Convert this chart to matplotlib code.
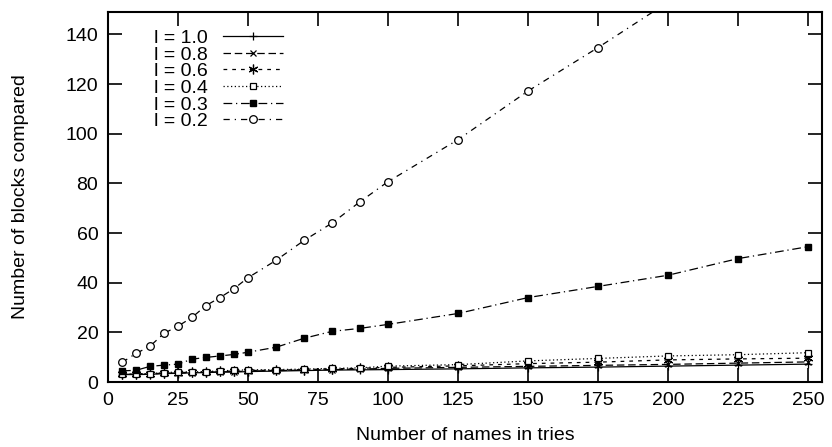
import matplotlib
matplotlib.use("Agg")
import matplotlib.pyplot as plt

plt.rcParams['font.family'] = ['Liberation Sans', 'DejaVu Sans']

# x positions (number of names in tries)
names = [5, 10, 15, 20, 25, 30, 35, 40, 45, 50, 60, 70, 80, 90, 100,
         125, 150, 175, 200, 225, 250]

# blocks compared for each threshold l
blocks_10 = [3.0, 3.0, 3.1, 3.4, 3.5, 3.7, 3.8, 4.0, 4.0, 4.2, 4.4, 4.6,
             4.8, 4.9, 5.0, 5.3, 5.7, 6.0, 6.4, 6.8, 7.2]
blocks_08 = [3.1, 3.1, 3.2, 3.5, 3.6, 3.8, 3.9, 4.1, 4.2, 4.4, 4.6, 4.8,
             5.0, 5.2, 5.5, 5.9, 6.3, 6.7, 7.1, 7.6, 8.1]
blocks_06 = [3.2, 3.2, 3.3, 3.6, 3.8, 3.9, 4.0, 4.3, 4.4, 4.6, 4.8, 5.0,
             5.3, 5.5, 5.9, 6.5, 7.4, 8.0, 8.9, 9.3, 9.6]
blocks_04 = [3.3, 3.3, 3.4, 3.8, 4.0, 4.1, 4.2, 4.5, 4.7, 4.9, 5.0, 5.2,
             5.5, 5.7, 6.4, 7.0, 8.5, 9.5, 10.5, 11.0, 11.8]
blocks_03 = [4.5, 4.7, 6.3, 6.8, 7.2, 9.2, 9.9, 10.5, 11.1, 12.0, 14.0, 17.6,
             20.4, 21.6, 23.2, 27.6, 34.0, 38.5, 43.0, 49.7, 54.5]
blocks_02 = [7.9, 11.5, 14.4, 19.6, 22.5, 26.0, 30.8, 34.0, 37.6, 42.0, 49.0, 57.0,
             64.0, 72.6, 80.7, 97.6, 117.2, 134.7, 153.0]

fig = plt.figure(figsize=(8.32, 4.47), dpi=100)
ax = fig.add_axes([0.1298, 0.1454, 0.8582, 0.8276])

lw = 0.9
ax.plot(names, blocks_10, color='black', lw=lw, ls='-', marker='+', ms=6, mew=0.9, label='l = 1.0')
ax.plot(names, blocks_08, color='black', lw=lw, ls=(0, (6, 3)), marker='x', ms=4.5, mew=0.9, label='l = 0.8')
ax.plot(names, blocks_06, color='black', lw=lw, ls=(0, (3, 4)), marker=(6, 2, 0), ms=7, mew=0.9, label='l = 0.6')
ax.plot(names, blocks_04, color='black', lw=lw, ls=(0, (1, 2)), marker='s', ms=4.5, mfc='white', mew=0.9, label='l = 0.4')
ax.plot(names, blocks_03, color='black', lw=lw, ls=(0, (7, 3, 1, 3)), marker='s', ms=5, mfc='black', label='l = 0.3')
ax.plot(names[:len(blocks_02)], blocks_02, color='black', lw=lw, ls=(0, (5, 4, 1, 4)), marker='o', ms=5.5,
        mfc='white', mew=0.9, label='l = 0.2')

ax.set_xlim(0, 255)
ax.set_ylim(0, 149)
ax.set_xticks([0, 25, 50, 75, 100, 125, 150, 175, 200, 225, 250])
ax.set_yticks([0, 20, 40, 60, 80, 100, 120, 140])
ax.tick_params(direction='in', length=10, width=1.2, top=True, right=True, labelsize=14)
ax.tick_params(axis='x', pad=7)
ax.tick_params(axis='y', pad=7)
for s in ax.spines.values():
    s.set_linewidth(1.5)

ax.set_xlabel('Number of names in tries', fontsize=14, labelpad=13)
ax.set_ylabel('Number of blocks compared', fontsize=14, labelpad=26)

leg = ax.legend(loc='upper left', bbox_to_anchor=(0.045, 0.99), frameon=False, markerfirst=False,
                handlelength=3.1, labelspacing=-0.05, handletextpad=0.8, fontsize=14,
                borderaxespad=0.3)

fig.savefig('out.png', dpi=100)
